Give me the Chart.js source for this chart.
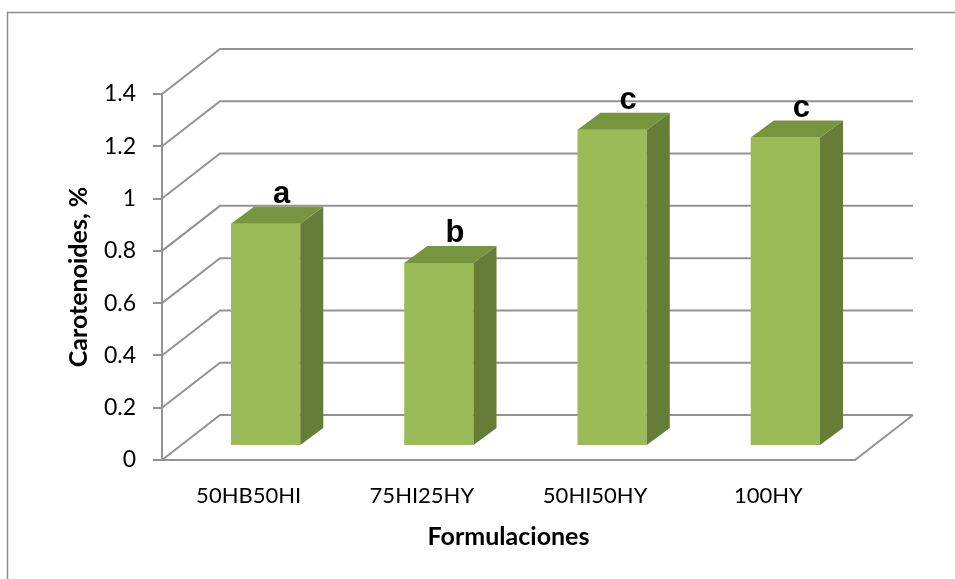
<!DOCTYPE html>
<html>
<head>
<meta charset="utf-8">
<script src="https://cdn.jsdelivr.net/npm/chart.js@4.4.1/dist/chart.umd.min.js"></script>
<style>
    html, body { margin: 0; padding: 0; background: #fff; }
    #wrap { width: 955px; height: 579px; position: relative; }
</style>
</head>
<body>
<div id="wrap"><canvas id="chart"></canvas></div>
<script>
// Datos del gráfico
const formulaciones = ['50HB50HI', '75HI25HY', '50HI50HY', '100HY'];
const carotenoides = [0.85, 0.70, 1.21, 1.18];
const letras = ['a', 'b', 'c', 'c'];

// Estilo 3D (desplazamientos en px)
const WALL_DX = 58, WALL_DY = -45;     // profundidad de las paredes
const BAR_DX = 17, BAR_DY = -14;       // posición de la cara frontal de la barra
const BAR_DEPTH_X = 23, BAR_DEPTH_Y = -17;
const GRID_COLOR = '#939393';

const pseudo3d = {
    id: 'pseudo3d',
    beforeDraw(chart) {
        const ctx = chart.ctx;
        ctx.save();
        ctx.strokeStyle = '#8c8c8c';
        ctx.lineWidth = 1.5;
        ctx.strokeRect(7.5, 12.5, 1200, 1200);
        ctx.restore();
    },
    beforeDatasetsDraw(chart) {
        const ctx = chart.ctx;
        const y = chart.scales.y;
        const area = chart.chartArea;
        ctx.save();
        ctx.strokeStyle = GRID_COLOR;
        ctx.lineWidth = 2;
        ctx.beginPath();
        // pared lateral + pared del fondo
        y.ticks.forEach(t => {
            const py = y.getPixelForValue(t.value);
            ctx.moveTo(area.left, py);
            ctx.lineTo(area.left + WALL_DX, py + WALL_DY);
            ctx.lineTo(area.right + WALL_DX, py + WALL_DY);
        });
        // borde derecho del piso
        const py0 = y.getPixelForValue(0);
        ctx.moveTo(area.right, py0);
        ctx.lineTo(area.right + WALL_DX, py0 + WALL_DY);
        ctx.stroke();
        ctx.restore();

        // las barras se dibujan desplazadas hacia el fondo
        ctx.save();
        ctx.translate(BAR_DX, BAR_DY);
    },
    afterDatasetsDraw(chart) {
        const ctx = chart.ctx;
        ctx.restore();
        const meta = chart.getDatasetMeta(0);
        ctx.save();
        meta.data.forEach((bar, i) => {
            const p = bar.getProps(['x', 'y', 'base', 'width'], true);
            const left = p.x - p.width / 2 + BAR_DX;
            const right = p.x + p.width / 2 + BAR_DX;
            const top = p.y + BAR_DY;
            const bottom = p.base + BAR_DY;

            // cara lateral
            ctx.fillStyle = '#657d37';
            ctx.beginPath();
            ctx.moveTo(right, top);
            ctx.lineTo(right + BAR_DEPTH_X, top + BAR_DEPTH_Y);
            ctx.lineTo(right + BAR_DEPTH_X, bottom + BAR_DEPTH_Y);
            ctx.lineTo(right, bottom);
            ctx.closePath();
            ctx.fill();

            // cara superior
            ctx.fillStyle = '#77943f';
            ctx.beginPath();
            ctx.moveTo(left, top);
            ctx.lineTo(left + BAR_DEPTH_X, top + BAR_DEPTH_Y);
            ctx.lineTo(right + BAR_DEPTH_X, top + BAR_DEPTH_Y);
            ctx.lineTo(right, top);
            ctx.closePath();
            ctx.fill();

            // letra de significancia
            ctx.fillStyle = '#000';
            ctx.font = 'bold 31px "Liberation Sans", Arial, sans-serif';
            ctx.textAlign = 'center';
            ctx.textBaseline = 'alphabetic';
            ctx.fillText(letras[i], p.x + BAR_DX + 16, top + BAR_DEPTH_Y - 4);
        });
        ctx.restore();
    }
};

new Chart(document.getElementById('chart'), {
    type: 'bar',
    data: {
        labels: formulaciones,
        datasets: [{
            label: 'Carotenoides, %',
            data: carotenoides,
            backgroundColor: '#9bbb59',
            borderWidth: 0,
            barPercentage: 0.4,
            categoryPercentage: 1
        }]
    },
    options: {
        responsive: true,
        maintainAspectRatio: false,
        animation: false,
        layout: {
            padding: { left: 60, top: 94, right: 100, bottom: 23 }
        },
        plugins: {
            legend: { display: false },
            tooltip: { enabled: false }
        },
        scales: {
            x: {
                grid: { display: false },
                border: { display: true, color: GRID_COLOR, width: 2 },
                ticks: {
                    color: '#000',
                    padding: 15,
                    font: { family: 'Lato', size: 22 }
                },
                title: {
                    display: true,
                    text: 'Formulaciones',
                    color: '#000',
                    font: { family: 'Lato', size: 25, weight: 'bold' }
                },
                afterFit: (scale) => { scale.height = 96; }
            },
            y: {
                min: 0,
                max: 1.4,
                grid: {
                    drawOnChartArea: false,
                    tickLength: 9,
                    color: GRID_COLOR,
                    lineWidth: 2
                },
                border: { display: true, color: GRID_COLOR, width: 2 },
                ticks: {
                    stepSize: 0.2,
                    color: '#000',
                    padding: 17,
                    font: { family: 'Lato', size: 23 },
                    callback: (v) => String(+v.toFixed(1))
                },
                title: {
                    display: true,
                    text: 'Carotenoides, %',
                    color: '#000',
                    font: { family: 'Lato', size: 25, weight: 'bold' }
                },
                afterFit: (scale) => { scale.width = 102; }
            }
        }
    },
    plugins: [pseudo3d]
});
</script>
</body>
</html>
